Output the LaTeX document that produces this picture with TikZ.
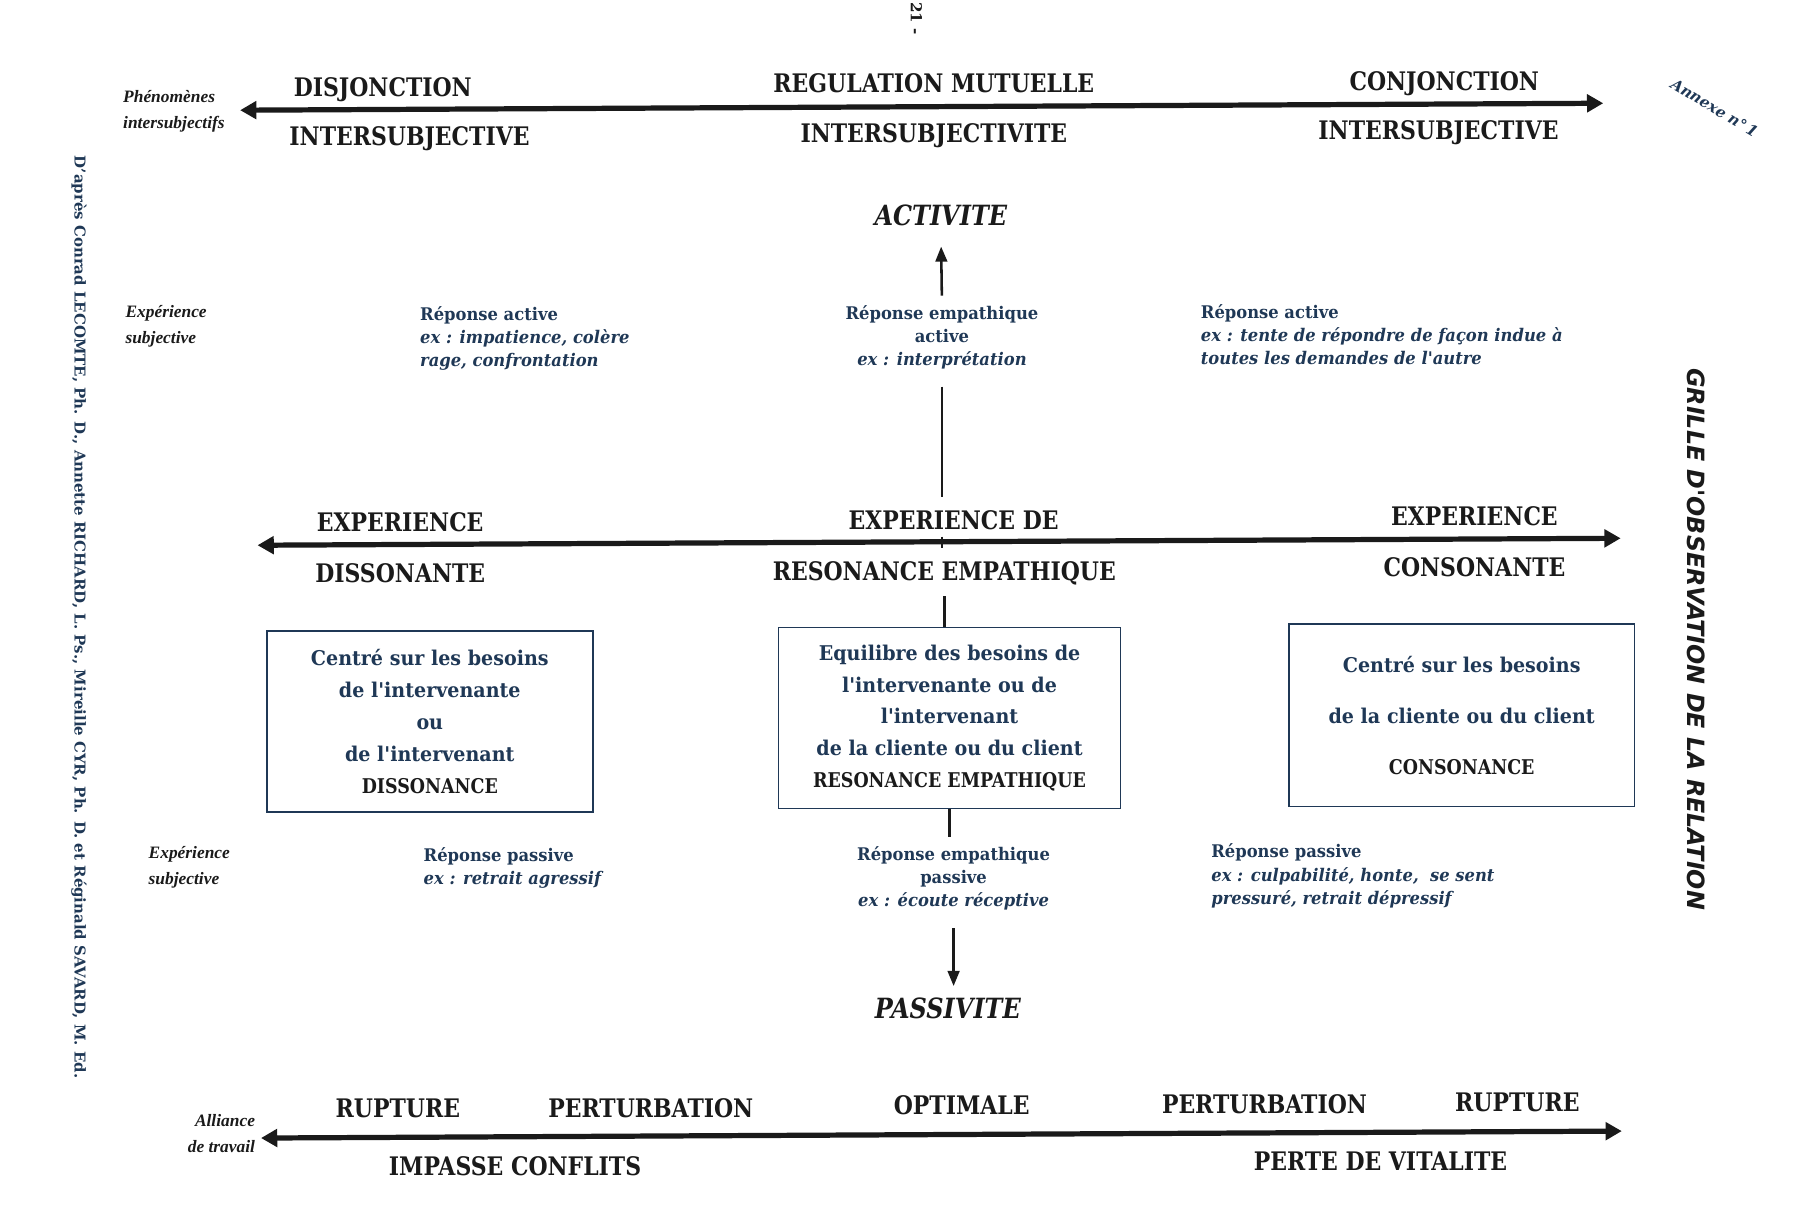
\documentclass[tikz,border=0pt]{standalone}
\usepackage{fontspec}
\setmainfont{DejaVu Serif}
\newfontfamily\hdfont[FakeStretch=0.86]{DejaVu Serif}
\newfontfamily\bdfont[FakeStretch=0.94]{DejaVu Serif}
\newfontfamily\smfont{Liberation Serif}
\newfontfamily\grfont{DejaVu Sans}
\usetikzlibrary{arrows.meta}
\definecolor{navy}{HTML}{1F3856}
\definecolor{ink}{HTML}{1A1A1A}
\tikzset{
 hd/.style={font=\hdfont\bfseries\fontsize{22}{26}\selectfont, text=ink, inner sep=0pt, anchor=base},
 hdit/.style={font=\hdfont\bfseries\itshape\fontsize{24}{28}\selectfont, text=ink, inner sep=0pt, anchor=base},
 resp/.style={font=\bdfont\bfseries\fontsize{15}{20}\selectfont, text=navy, inner sep=0pt, align=left},
 respc/.style={resp, align=center},
 side/.style={font=\smfont\bfseries\itshape\fontsize{15}{22}\selectfont, text=ink, inner sep=0pt, align=left},
 boxn/.style={draw=navy, line width=1.3pt, inner sep=0pt, align=center, text=navy, font=\bdfont\bfseries\fontsize{17.5}{27.5}\selectfont},
 bigarrow/.style={line width=4.5pt, draw=ink, {Triangle[length=14pt,width=15pt]}-{Triangle[length=14pt,width=15pt]}},
 vline/.style={line width=2.2pt, draw=ink},
 varrow/.style={vline, -{Triangle[length=13pt,width=10pt]}},
}
\newcommand{\capl}[1]{{\hdfont\bfseries\fontsize{17.5}{27.5}\selectfont\color{ink}#1}}
\begin{document}
\begin{tikzpicture}[x=1pt,y=-1pt]
\fill[white] (0,0) rectangle (1568,1049);
\useasboundingbox (0,0) rectangle (1568,1049);

% page marks
\node[rotate=-90, font=\bfseries\fontsize{13}{15}\selectfont, text=ink, inner sep=0pt] (page) at (790,16) {21 -};
\node[rotate=-31, font=\bfseries\itshape\fontsize{13}{15}\selectfont, text=navy, inner sep=0pt] (annexe) at (1478,93) {Annexe n°\,1};
\node[rotate=-90, text=navy, inner sep=0pt] (credit) at (68,532) {\resizebox{795pt}{!}{\bfseries D'après Conrad LECOMTE, Ph. D., Annette RICHARD, L. Ps., Mireille CYR, Ph. D. et Réginald SAVARD, M. Ed.}};
\node[rotate=-90, text=ink, inner sep=0pt] (grille) at (1462,551) {\resizebox{467pt}{!}{\grfont\bfseries\itshape GRILLE D'OBSERVATION DE LA RELATION}};

% axes
\coordinate (t1) at (207,95); \coordinate (t2) at (1382,89);
\coordinate (m1) at (222,470); \coordinate (m2) at (1397,464);
\coordinate (b1) at (225,981); \coordinate (b2) at (1398,975);
\draw[bigarrow] (t1) -- (t2);
\draw[bigarrow] (m1) -- (m2);
\draw[bigarrow] (b1) -- (b2);

% side labels
\node[side, anchor=west] (phen) at (106,96) {Phénomènes\\intersubjectifs};
\node[side, anchor=west] (exp1) at (108,281.5) {Expérience\\subjective};
\node[side, anchor=west] (exp2) at (128,747.5) {Expérience\\subjective};
\node[side, anchor=east, align=right] (alli) at (220,977) {Alliance\\de travail};

% top headings
\node[hd] (disj) at (330,83) {DISJONCTION};
\node[hd] (inter1) at (353,125) {INTERSUBJECTIVE};
\node[hd] (regul) at (805,80) {REGULATION MUTUELLE};
\node[hd] (inter2) at (805,123) {INTERSUBJECTIVITE};
\node[hd] (conj) at (1245,78) {CONJONCTION};
\node[hd] (inter3) at (1240,120) {INTERSUBJECTIVE};

\node[hdit] (act) at (811,194) {ACTIVITE};
\node[hdit] (pass) at (817,878) {PASSIVITE};

% responses
\node[resp, anchor=west] (resp1) at (362,292) {Réponse active\\\textit{ex : impatience, colère}\\\textit{rage, confrontation}};
\node[respc] (resp2) at (812,291) {Réponse empathique\\active\\\textit{ex : interprétation}};
\node[resp, anchor=west] (resp3) at (1035,288.5) {Réponse active\\\textit{ex : tente de répondre de façon indue à}\\\textit{toutes les demandes de l'autre}};
\node[resp, anchor=west] (resp4) at (365,748.5) {Réponse passive\\\textit{ex : retrait agressif}};
\node[respc] (resp5) at (822,757) {Réponse empathique\\passive\\\textit{ex : écoute réceptive}};
\node[resp, anchor=west] (resp6) at (1044,755) {Réponse passive\\\textit{ex : culpabilité, honte,\ \ se sent}\\\textit{pressuré, retrait dépressif}};

% middle headings
\node[hd] (exp3) at (345,458) {EXPERIENCE};
\node[hd] (diss) at (345,502) {DISSONANTE};
\node[hd] (expde) at (822,456) {EXPERIENCE DE};
\node[hd] (resemp) at (814,500) {RESONANCE EMPATHIQUE};
\node[hd] (exp4) at (1271,453) {EXPERIENCE};
\node[hd] (cons) at (1271,497) {CONSONANTE};

% boxes
\node[boxn, minimum width=281pt, minimum height=156pt] (bl) at (370.5,622) {Centré sur les besoins\\de l'intervenante\\ou\\de l'intervenant\\\capl{DISSONANCE}};
\node[boxn, minimum width=295pt, minimum height=156pt] (bm) at (818.5,619) {Equilibre des besoins de\\l'intervenante ou de\\l'intervenant\\de la cliente ou du client\\\capl{RESONANCE EMPATHIQUE}};
\node[boxn, minimum width=298pt, minimum height=157pt] (br) at (1260,616.5) {Centré sur les besoins\\[16.5pt]de la cliente ou du client\\[16.5pt]\capl{CONSONANCE}};

% bottom headings
\node[hd] (rup1) at (343,963) {RUPTURE};
\node[hd] (pert1) at (561,963) {PERTURBATION};
\node[hd] (opt) at (829,961) {OPTIMALE};
\node[hd] (pert2) at (1090,960) {PERTURBATION};
\node[hd] (rup2) at (1308,958) {RUPTURE};
\node[hd] (imp) at (444,1013) {IMPASSE CONFLITS};
\node[hd] (perte) at (1190,1009) {PERTE DE VITALITE};

% vertical axis
\draw[varrow, shorten <=8.5pt, shorten >=18pt] (resp2.north) -- (act.south);
\draw[vline, shorten <=14.5pt, shorten >=11pt] (resp2.south) -- (resp2.south |- expde.north);
\draw[vline, shorten <=6pt, shorten >=11pt] (resp2.south |- expde.south) -- (resp2.south |- resemp.north);
\draw[vline, shorten <=10pt] (resemp.south) -- (resemp.south |- bm.north);
\draw[vline, shorten >=8pt] (bm.south) -- (bm.south |- resp5.north);
\draw[varrow, shorten <=15.5pt, shorten >=10pt] (resp5.south) -- (resp5.south |- pass.north);
\end{tikzpicture}
\end{document}
